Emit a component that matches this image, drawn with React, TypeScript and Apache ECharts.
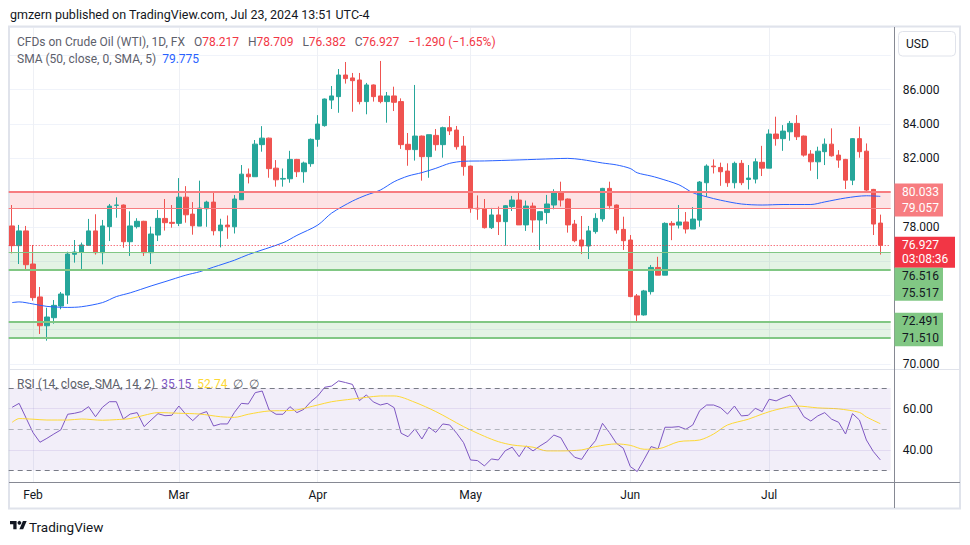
import React, { useEffect, useRef } from 'react';
import * as echarts from 'echarts';

const FONT = 'Roboto, "Noto Sans", Arial, sans-serif';
const UP = '#26a69a';
const DOWN = '#ef5350';
const TEXT = '#131722';
const GREY = '#5d606b';

// trading days per month (2024)
const monthDays: [string, number[]][] = [
  ['01', [29, 30, 31]],
  ['02', [1, 2, 5, 6, 7, 8, 9, 12, 13, 14, 15, 16, 19, 20, 21, 22, 23, 26, 27, 28, 29]],
  ['03', [1, 4, 5, 6, 7, 8, 11, 12, 13, 14, 15, 18, 19, 20, 21, 22, 25, 26, 27, 28]],
  ['04', [1, 2, 3, 4, 5, 8, 9, 10, 11, 12, 15, 16, 17, 18, 19, 22, 23, 24, 25, 26, 29, 30]],
  ['05', [1, 2, 3, 6, 7, 8, 9, 10, 13, 14, 15, 16, 17, 20, 21, 22, 23, 24, 27, 28, 29, 30, 31]],
  ['06', [3, 4, 5, 6, 7, 10, 11, 12, 13, 14, 17, 18, 19, 20, 21, 24, 25, 26, 27, 28]],
  ['07', [1, 2, 3, 4, 5, 8, 9, 10, 11, 12, 15, 16, 17, 18, 19, 22, 23]],
];
const monthNames: Record<string, string> = { '01': 'Jan', '02': 'Feb', '03': 'Mar', '04': 'Apr', '05': 'May', '06': 'Jun', '07': 'Jul' };

// [open, high, low, close]
const ohlc: number[][] = [
  [78.05, 79.27, 76.45, 76.90], [76.90, 78.11, 75.83, 77.76], [77.76, 78.05, 75.48, 75.79], [75.83, 76.94, 73.69, 73.87],
  [73.91, 74.49, 71.75, 72.23], [72.23, 73.28, 71.36, 72.74], [72.70, 73.73, 72.35, 73.42], [73.38, 74.20, 73.19, 74.08],
  [74.02, 76.55, 73.50, 76.41], [76.40, 77.23, 75.91, 76.53], [76.51, 77.08, 75.46, 76.94], [76.92, 78.46, 76.90, 77.76],
  [77.76, 78.73, 76.38, 76.49], [76.49, 78.40, 75.81, 78.05], [78.01, 79.33, 77.17, 79.21], [79.25, 79.72, 78.53, 79.27],
  [79.27, 79.30, 76.78, 77.13], [77.13, 78.90, 76.30, 78.05], [78.01, 78.50, 77.90, 78.32], [78.32, 78.35, 76.30, 76.49],
  [76.49, 78.01, 75.83, 77.58], [77.52, 78.98, 77.17, 78.49], [78.49, 79.62, 77.78, 78.24], [78.26, 79.27, 77.95, 78.20],
  [78.20, 80.84, 78.04, 79.73], [79.73, 80.37, 78.24, 78.70], [78.74, 79.44, 77.54, 78.06], [78.04, 80.69, 78.04, 79.09],
  [79.05, 79.52, 78.00, 79.44], [79.44, 79.99, 77.50, 77.77], [77.77, 78.47, 76.80, 78.10], [78.10, 78.66, 77.30, 78.00],
  [78.00, 79.85, 77.61, 79.62], [79.58, 81.60, 79.58, 81.07], [81.07, 81.40, 80.53, 80.92], [80.92, 83.06, 80.92, 82.82],
  [82.79, 83.87, 82.38, 83.17], [83.17, 83.20, 80.86, 81.39], [81.42, 81.89, 80.34, 80.74], [80.78, 81.40, 80.34, 80.82],
  [80.80, 82.43, 80.57, 81.93], [81.93, 81.96, 80.90, 81.21], [81.21, 81.80, 80.57, 81.72], [81.68, 83.15, 81.50, 83.10],
  [83.10, 84.51, 82.67, 83.99], [83.90, 85.48, 83.84, 85.45], [85.39, 86.21, 84.87, 85.63], [85.59, 87.20, 84.65, 86.85],
  [86.85, 87.61, 86.35, 86.64], [86.68, 86.97, 84.71, 86.52], [86.56, 86.97, 85.14, 85.30], [85.30, 86.39, 84.56, 86.27],
  [86.27, 86.30, 85.30, 85.59], [85.63, 87.67, 85.20, 85.30], [85.30, 85.86, 84.07, 85.63], [85.63, 86.17, 84.75, 85.26],
  [85.30, 85.49, 82.54, 82.79], [82.81, 83.47, 81.56, 82.50], [82.50, 86.27, 81.86, 83.29], [83.29, 83.32, 80.69, 82.09],
  [82.09, 83.37, 80.86, 83.37], [83.33, 83.70, 82.44, 82.79], [82.79, 83.84, 82.03, 83.78], [83.78, 84.46, 83.35, 83.59],
  [83.64, 83.88, 82.50, 82.67], [82.71, 83.29, 80.98, 81.51], [81.54, 81.57, 78.82, 79.06], [79.08, 79.83, 78.41, 79.04],
  [79.04, 79.62, 77.90, 77.95], [77.95, 79.10, 77.87, 78.69], [78.69, 79.18, 77.52, 78.30], [78.30, 79.27, 76.90, 79.23],
  [79.18, 79.80, 78.92, 79.56], [79.56, 79.99, 78.11, 78.11], [78.11, 79.53, 77.76, 79.21], [79.21, 79.41, 77.66, 78.40],
  [78.40, 78.92, 76.65, 78.88], [78.83, 79.86, 78.17, 79.33], [79.27, 80.19, 79.02, 79.99], [79.99, 80.63, 79.18, 79.56],
  [79.62, 79.65, 77.66, 78.11], [78.16, 78.40, 77.10, 77.19], [77.23, 78.63, 76.41, 76.88], [76.88, 78.05, 76.12, 77.76],
  [77.72, 78.79, 77.60, 78.49], [78.46, 80.27, 78.30, 80.24], [80.24, 80.63, 79.02, 79.23], [79.27, 79.30, 77.60, 77.82],
  [77.85, 78.59, 76.65, 77.19], [77.23, 77.52, 73.90, 73.93], [73.97, 74.08, 72.47, 72.86], [72.86, 74.32, 72.82, 74.26],
  [74.22, 75.77, 74.05, 75.63], [75.63, 76.25, 75.18, 75.18], [75.18, 78.26, 75.18, 78.20], [78.20, 78.33, 77.22, 78.10],
  [78.10, 79.27, 77.90, 78.28], [78.28, 78.86, 77.61, 77.87], [77.87, 79.15, 77.87, 78.45], [78.39, 80.67, 78.00, 80.61],
  [80.57, 81.64, 79.75, 81.54], [81.54, 81.93, 81.11, 81.50], [81.46, 81.74, 80.39, 81.21], [81.25, 81.70, 80.33, 80.57],
  [80.57, 81.80, 80.24, 81.70], [81.70, 81.89, 80.43, 80.57], [80.76, 81.60, 80.18, 80.84], [80.78, 81.99, 80.53, 81.79],
  [81.76, 82.72, 80.96, 81.42], [81.42, 83.68, 81.42, 83.41], [83.41, 84.42, 82.73, 83.14], [83.14, 83.93, 82.43, 83.58],
  [83.54, 84.17, 83.02, 84.03], [84.03, 84.51, 83.06, 83.25], [83.29, 83.32, 82.09, 82.18], [82.24, 82.47, 81.27, 81.79],
  [81.79, 82.67, 80.78, 82.41], [82.38, 83.15, 81.60, 82.82], [82.82, 83.74, 82.09, 82.14], [82.18, 82.47, 81.44, 81.89],
  [81.93, 81.96, 80.20, 80.72], [80.72, 83.17, 80.43, 83.14], [83.14, 83.84, 82.03, 82.38], [82.41, 82.86, 80.04, 80.14],
  [80.18, 80.21, 77.52, 78.16], [78.217, 78.709, 76.382, 76.927],
];

// SMA(50): [bar index, value]
const sma50: [number, number][] = [
  [0, 73.58], [1, 73.62], [3, 73.5], [5, 73.36], [8, 73.3], [10, 73.34], [13, 73.58], [15, 73.93], [17, 74.15],
  [20, 74.55], [22, 74.8], [25, 75.18], [27, 75.38], [29, 75.65], [32, 76.05], [34, 76.38], [39, 77.07], [41, 77.5],
  [44, 78.1], [46, 78.8], [49, 79.5], [51, 79.85], [53, 80.14], [55, 80.63], [57, 80.96], [59, 81.16], [61, 81.41],
  [63, 81.7], [65, 81.82], [68, 81.84], [73, 81.9], [78, 81.97], [80, 81.99], [82, 81.92], [85, 81.72], [87, 81.61],
  [89, 81.4], [90, 81.15], [92, 80.96], [93, 80.85], [96, 80.45], [98, 79.99], [100, 79.75], [102, 79.55], [105, 79.33],
  [108, 79.27], [111, 79.3], [115, 79.3], [117, 79.45], [120, 79.68], [123, 79.81], [125, 79.775],
];

const rsi: number[] = [
  60.7, 62.6, 55.5, 48.4, 43.7, 45.6, 47.7, 49.7, 57.3, 57.8,
  58.6, 61.0, 56.1, 60.7, 63.4, 63.4, 55.0, 57.4, 58.1, 51.3,
  54.5, 57.6, 56.6, 56.8, 61.3, 57.3, 54.2, 57.4, 58.6, 51.6,
  52.6, 52.6, 58.2, 62.6, 62.3, 67.8, 68.6, 59.4, 57.3, 57.3,
  61.0, 58.1, 59.7, 63.4, 66.2, 70.4, 71.0, 73.5, 72.7, 71.8,
  63.9, 66.7, 63.3, 61.8, 62.6, 60.5, 48.1, 46.4, 50.2, 45.3,
  51.0, 48.5, 52.6, 52.1, 48.1, 43.5, 35.1, 34.8, 32.2, 35.6,
  35.1, 39.6, 41.3, 36.7, 41.9, 39.5, 41.9, 44.0, 47.2, 45.9,
  40.0, 36.4, 35.4, 40.5, 44.5, 52.9, 48.4, 43.2, 40.8, 31.9,
  29.5, 35.4, 41.6, 40.5, 51.0, 51.0, 51.3, 50.0, 52.1, 59.1,
  61.8, 61.8, 60.5, 57.4, 61.3, 56.5, 56.8, 60.2, 58.6, 64.6,
  63.8, 65.4, 66.7, 61.8, 56.1, 54.0, 56.5, 58.1, 54.9, 53.4,
  47.7, 57.6, 54.5, 44.8, 39.2, 35.15,
];

const rsiMa: [number, number][] = [
  [0, 53.4], [1, 55.2], [3, 54.9], [5, 54.5], [8, 54.5], [10, 55.0], [13, 54.4], [15, 54.7], [17, 55.2], [19, 56.8],
  [21, 58.1], [24, 57.8], [27, 57.4], [30, 56.1], [32, 55.8], [34, 57.3], [37, 58.9], [40, 59.1], [41, 59.4], [44, 61.8],
  [46, 63.4], [49, 64.7], [51, 65.5], [53, 66.2], [55, 66.2], [58, 63.1], [61, 58.6], [63, 55.0], [65, 51.3], [68, 46.6],
  [70, 44.0], [72, 42.4], [75, 41.3], [77, 39.5], [79, 39.5], [82, 40.0], [84, 41.6], [87, 42.9], [89, 42.2], [91, 40.3],
  [93, 40.5], [96, 44.0], [99, 44.8], [101, 47.7], [103, 52.1], [106, 54.9], [108, 57.4], [110, 59.5], [113, 61.3],
  [116, 60.4], [119, 59.9], [122, 58.2], [123, 56.0], [125, 52.74],
];

const priceLabels = [70, 78, 82, 84, 86];
const resistance = [79.057, 80.033];
const support1 = [75.517, 76.516];
const support2 = [71.51, 72.491];
const rsiBounds = [30, 70];
const rsiMid = 50;
const rsiLabelLevels = [40, 60];
const lastChange = '−1.290 (−1.65%)';
const countdown = '03:08:36';

const TV_LOGO = 'M14 22H7V11H0V4h14v18zM28 22h-8l7.5-18h8L28 22z';
echarts.graphic.registerShape('tvlogo', echarts.graphic.extendPath(TV_LOGO, {}));

export default function App() {
  const ref = useRef<HTMLDivElement>(null);

  useEffect(() => {
    const el = ref.current!;
    const chart = echarts.init(el, null, { renderer: 'svg' });

    const dates: string[] = [];
    monthDays.forEach(([m, days]) => days.forEach((d) => dates.push(`2024-${m}-${String(d).padStart(2, '0')}`)));
    const cats = [...dates, ''];
    const isMonthStart = (i: number) => i > 0 && i < dates.length && dates[i].slice(5, 7) !== dates[i - 1].slice(5, 7);

    const last = ohlc[ohlc.length - 1];
    const f3 = (v: number) => v.toFixed(3);

    const xBase = {
      type: 'category',
      data: cats,
      boundaryGap: true,
      axisLine: { show: false },
      axisTick: { show: false },
      splitLine: {
        show: true,
        interval: (i: number) => isMonthStart(i),
        alignWithLabel: true,
        lineStyle: { color: '#eef0f5', width: 1 },
      },
    };

    const hLine = (v: number, color: string, width: number, type: any = 'solid') => ({
      yAxis: v,
      lineStyle: { color, width, type },
      label: { show: false },
    });

    const option: any = {
      animation: false,
      backgroundColor: '#ffffff',
      textStyle: { fontFamily: FONT },
      grid: [
        { left: 8.7, width: 882, top: 27, height: 337 },
        { left: 8.7, width: 882, top: 370, height: 112 },
      ],
      xAxis: [
        { ...xBase, gridIndex: 0, axisLabel: { show: false } },
        {
          ...xBase,
          gridIndex: 1,
          axisLabel: {
            show: true,
            interval: (i: number) => isMonthStart(i),
            formatter: (v: string) => monthNames[v.slice(5, 7)] || '',
            color: TEXT,
            fontSize: 12,
            fontFamily: FONT,
            margin: 7,
          },
        },
      ],
      yAxis: [
        {
          gridIndex: 0,
          type: 'value',
          position: 'right',
          min: 70,
          max: 89.65,
          interval: 2,
          axisLine: { show: false },
          axisTick: { show: false },
          axisLabel: {
            margin: 12,
            color: TEXT,
            fontSize: 12,
            fontFamily: FONT,
            formatter: (v: number) => (priceLabels.includes(Math.round(v * 1000) / 1000) ? f3(v) : ''),
          },
          splitLine: { show: true, lineStyle: { color: '#f0f3fa' } },
        },
        {
          gridIndex: 1,
          type: 'value',
          position: 'right',
          min: 24.4,
          max: 78.8,
          show: false,
          splitLine: { show: false },
        },
      ],
      series: [
        {
          type: 'candlestick',
          xAxisIndex: 0,
          yAxisIndex: 0,
          data: ohlc.map(([o, h, l, c]) => [o, c, l, h]),
          barWidth: 5,
          itemStyle: { color: UP, color0: DOWN, borderColor: UP, borderColor0: DOWN, borderWidth: 1 },
          markArea: {
            silent: true,
            data: [
              [{ yAxis: resistance[0], itemStyle: { color: 'rgba(242,54,69,0.14)' } }, { yAxis: resistance[1] }],
              [{ yAxis: support1[0], itemStyle: { color: 'rgba(76,175,80,0.15)' } }, { yAxis: support1[1] }],
              [{ yAxis: support2[0], itemStyle: { color: 'rgba(76,175,80,0.15)' } }, { yAxis: support2[1] }],
            ],
          },
          markLine: {
            silent: true,
            symbol: ['none', 'none'],
            animation: false,
            data: [
              hLine(resistance[1], '#f77c80', 2),
              hLine(resistance[0], '#f77c80', 1),
              hLine(support1[1], '#81c784', 1),
              hLine(support1[0], '#81c784', 2),
              hLine(support2[1], '#81c784', 2),
              hLine(support2[0], '#81c784', 2),
              hLine(last[3], '#f23645', 1, [1, 2]),
            ],
          },
        },
        {
          type: 'line',
          name: 'SMA',
          xAxisIndex: 0,
          yAxisIndex: 0,
          data: sma50,
          symbol: 'none',
          smooth: 0.3,
          lineStyle: { color: '#2962ff', width: 1 },
        },
        {
          type: 'line',
          name: 'RSI',
          xAxisIndex: 1,
          yAxisIndex: 1,
          data: rsi,
          symbol: 'none',
          lineStyle: { color: '#7e57c2', width: 1 },
          markArea: {
            silent: true,
            itemStyle: { color: 'rgba(126,87,194,0.1)' },
            data: [[{ yAxis: rsiBounds[0] }, { yAxis: rsiBounds[1] }]],
          },
          markLine: {
            silent: true,
            symbol: ['none', 'none'],
            data: [
              ...rsiLabelLevels.map((v) => ({
                yAxis: v,
                lineStyle: { color: 'rgba(126,87,194,0.13)', width: 1, type: 'solid' },
                label: {
                  show: true,
                  position: 'end',
                  distance: 12,
                  formatter: v.toFixed(2),
                  color: TEXT,
                  fontSize: 12,
                  fontFamily: FONT,
                },
              })),
              hLine(rsiBounds[1], '#787b86', 1, [5, 4]),
              hLine(rsiMid, '#b2b5be', 1, [5, 4]),
              hLine(rsiBounds[0], '#787b86', 1, [5, 4]),
            ],
          },
        },
        {
          type: 'line',
          name: 'RSI MA',
          xAxisIndex: 1,
          yAxisIndex: 1,
          data: rsiMa,
          symbol: 'none',
          smooth: 0.3,
          lineStyle: { color: '#fdd835', width: 1 },
        },
      ],
    };

    chart.setOption(option);

    const py = (v: number) => chart.convertToPixel({ yAxisIndex: 0 }, v) as number;
    const t = (x: number, y: number, text: string, style: any = {}) => ({
      type: 'text',
      x,
      y,
      z: 20,
      style: { text, fill: TEXT, fontSize: 12, fontFamily: FONT, verticalAlign: 'middle', ...style },
    });
    const badge = (top: number, h: number, w: number, fill: string, color: string, lines: string[], step: number) => [
      { type: 'rect', z: 18, shape: { x: 894.5, y: top, width: w, height: h }, style: { fill } },
      ...lines.map((s, i) => t(902, top + 8.5 + i * step, s, { fill: color })),
    ];

    const redTop = py(last[3]) - 8.5;
    const g: any[] = [
      t(10, 14, 'gmzern published on TradingView.com, Jul 23, 2024 13:51 UTC-4', { fontSize: 12.5 }),
      {
        type: 'rect', z: 1,
        shape: { x: 9, y: 26.5, width: 951, height: 482 },
        style: { fill: 'none', stroke: '#e0e3eb', lineWidth: 2 },
      },
      { type: 'line', z: 15, shape: { x1: 9, y1: 369.5, x2: 960, y2: 369.5 }, style: { stroke: '#e0e3eb', lineWidth: 1 } },
      { type: 'line', z: 15, shape: { x1: 9, y1: 482.5, x2: 960, y2: 482.5 }, style: { stroke: '#868993', lineWidth: 1 } },
      { type: 'line', z: 15, shape: { x1: 894.5, y1: 27, x2: 894.5, y2: 508 }, style: { stroke: '#868993', lineWidth: 1 } },
      {
        type: 'rect', z: 15,
        shape: { x: 898.5, y: 31.5, width: 57, height: 24.5, r: 4 },
        style: { fill: '#ffffff', stroke: '#e0e3eb', lineWidth: 1 },
      },
      t(906, 44, 'USD'),
      {
        type: 'text', x: 17, y: 42, z: 20,
        style: {
          text: `{g|CFDs on Crude Oil (WTI), 1D, FX}   {g|O}{r|${f3(last[0])}}   {g|H}{r|${f3(last[1])}}   {g|L}{r|${f3(last[2])}}   {g|C}{r|${f3(last[3])}}   {r|${lastChange}}`,
          fontSize: 12, fontFamily: FONT, verticalAlign: 'middle',
          rich: { g: { fill: GREY, fontSize: 12, fontFamily: FONT }, r: { fill: '#f23645', fontSize: 12, fontFamily: FONT } },
        },
      },
      {
        type: 'text', x: 17, y: 59, z: 20,
        style: {
          text: `{g|SMA (50, close, 0, SMA, 5)}  {b|${sma50[sma50.length - 1][1].toFixed(3)}}`,
          fontSize: 12, fontFamily: FONT, verticalAlign: 'middle',
          rich: { g: { fill: GREY, fontSize: 12, fontFamily: FONT }, b: { fill: '#2962ff', fontSize: 12, fontFamily: FONT } },
        },
      },
      {
        type: 'text', x: 17, y: 384, z: 20,
        style: {
          text: `{g|RSI (14, close, SMA, 14, 2)}  {p|${rsi[rsi.length - 1].toFixed(2)}}  {y|${rsiMa[rsiMa.length - 1][1].toFixed(2)}}  {g|∅}  {g|∅}`,
          fontSize: 12, fontFamily: FONT, verticalAlign: 'middle',
          rich: {
            g: { fill: GREY, fontSize: 12, fontFamily: FONT },
            p: { fill: '#7e57c2', fontSize: 12, fontFamily: FONT },
            y: { fill: '#fdd835', fontSize: 12, fontFamily: FONT },
          },
        },
      },
      ...badge(py(resistance[1]) - 8.5, 33, 48.5, '#f77c80', '#ffffff', [f3(resistance[1]), f3(resistance[0])], 16.5),
      ...badge(redTop, 31, 60.5, '#f23645', '#ffffff', [f3(last[3]), countdown], 14),
      ...badge(redTop + 31, 33, 48.5, '#81c784', TEXT, [f3(support1[1]), f3(support1[0])], 16.5),
      ...badge(py(support2[1]) - 8.5, 33.5, 48.5, '#81c784', TEXT, [f3(support2[1]), f3(support2[0])], 16.5),
      { type: 'tvlogo', x: 10, y: 519, z: 20, scaleX: 0.47, scaleY: 0.47, style: { fill: TEXT } },
      { type: 'circle', z: 20, shape: { cx: 10 + 20 * 0.47, cy: 519 + 8 * 0.47, r: 4 * 0.47 }, style: { fill: TEXT } },
      t(29, 527, 'TradingView', { fontSize: 13.5 }),
    ];

    chart.setOption({ graphic: g });

    return () => chart.dispose();
  }, []);

  return (
    <div
      ref={ref}
      style={{ position: 'absolute', left: 0, top: 0, width: 970, height: 545, background: '#ffffff' }}
    />
  );
}
